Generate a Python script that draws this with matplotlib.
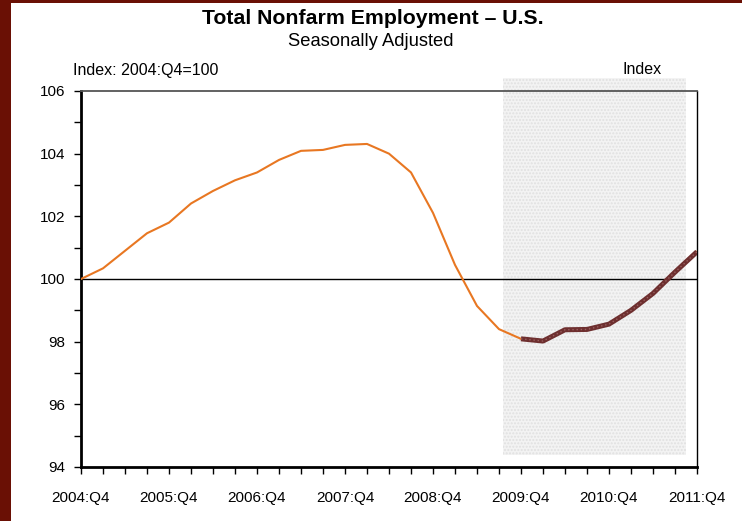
import matplotlib.pyplot as plt
import matplotlib.patches as mpatches
from matplotlib.ticker import MultipleLocator
import numpy as np

plt.rcParams['font.family'] = ['Liberation Sans', 'DejaVu Sans']

# quarterly index, 2004:Q4 = 100
quarter_labels = ['2004:Q4', '2005:Q4', '2006:Q4', '2007:Q4',
                  '2008:Q4', '2009:Q4', '2010:Q4', '2011:Q4']
employment = [100.00, 100.34, 100.90, 101.46, 101.80, 102.41, 102.81, 103.15,
              103.40, 103.80, 104.09, 104.12, 104.28, 104.31, 104.00, 103.40,
              102.11, 100.45, 99.14, 98.40, 98.09, 98.02, 98.38, 98.39,
              98.56, 99.00, 99.54, 100.22, 100.87]
recovery_start = 20  # 2009:Q4 onward drawn as the highlighted segment
shade_range = (19.2, 27.5)

x = np.arange(len(employment))

fig = plt.figure(figsize=(7.42, 5.21), dpi=100)
ax = fig.add_axes([81 / 742, 54 / 521, 616 / 742, 376 / 521])

# shaded period
shade = mpatches.Rectangle((shade_range[0], 94.38), shade_range[1] - shade_range[0], 106.41 - 94.38,
                           facecolor='#f3f3f3', edgecolor='#e0e0e0', hatch='.....',
                           linewidth=0, clip_on=False, zorder=0)
ax.add_patch(shade)

ax.axhline(100, color='black', lw=1, zorder=2)
ax.plot(x, employment, color='#e87722', lw=1.5, zorder=3)
ax.plot(x[recovery_start:], employment[recovery_start:], color='#6e2f2f', lw=3.6,
        solid_capstyle='butt', zorder=4)
ax.plot(x[recovery_start:], employment[recovery_start:], color='#9a6060', lw=1.0,
        ls=(0, (1, 2)), zorder=5)

ax.set_xlim(0, len(employment) - 1)
ax.set_ylim(94, 106)
ax.set_xticks(np.arange(0, len(employment), 4))
ax.set_xticklabels(quarter_labels)
ax.xaxis.set_minor_locator(MultipleLocator(1))
ax.yaxis.set_major_locator(MultipleLocator(2))
ax.yaxis.set_minor_locator(MultipleLocator(1))
ax.tick_params(axis='both', which='both', direction='out', length=5, width=1,
               labelsize=11, color='black')
ax.tick_params(axis='x', pad=12)
ax.tick_params(axis='y', pad=6)

ax.spines['left'].set_linewidth(2)
ax.spines['bottom'].set_linewidth(2)
ax.spines['right'].set_linewidth(1)
ax.spines['top'].set_linewidth(1.3)
ax.spines['top'].set_color('#555555')

fig.text(373 / 742, 1 - 18 / 521, 'Total Nonfarm Employment \u2013 U.S.', ha='center', va='center',
         fontsize=15.3, fontweight='bold')
fig.text(371 / 742, 1 - 41 / 521, 'Seasonally Adjusted', ha='center', va='center', fontsize=13.2)
fig.text(73 / 742, 1 - 70 / 521, 'Index: 2004:Q4=100', ha='left', va='center', fontsize=11.5)
fig.text(642 / 742, 1 - 70 / 521, 'Index', ha='center', va='center', fontsize=11.5)

# dark frame on the left and top edge
fig.patches.append(mpatches.Rectangle((0, 0), 11 / 742, 1, transform=fig.transFigure,
                                      facecolor='#6a1005', edgecolor='none', zorder=-1))
fig.patches.append(mpatches.Rectangle((0, 1 - 3 / 521), 1, 3 / 521, transform=fig.transFigure,
                                      facecolor='#6a1005', edgecolor='none', zorder=-1))

fig.savefig('out.png', dpi=100)
